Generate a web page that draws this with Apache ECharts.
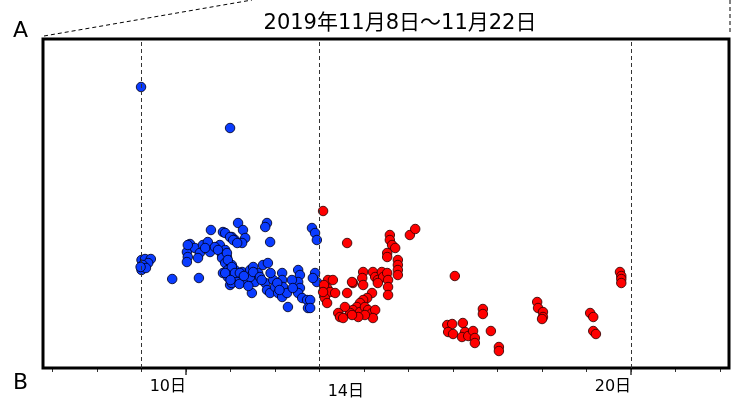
<!DOCTYPE html>
<html>
<head>
<meta charset="utf-8">
<script src="https://cdn.jsdelivr.net/npm/echarts@6/dist/echarts.min.js"></script>
<style>html,body{margin:0;padding:0;background:#fff}#c{width:736px;height:401px}</style>
</head>
<body>
<div id="c"></div>
<script>
// Day of month (Nov 2019) and unitless vertical value
var blueX = [8.99,10.99,9.00,9.08,9.21,9.15,9.03,9.00,9.10,8.98,9.69,10.29,10.56,10.09,10.02,10.04,10.02,10.20,10.31,10.27,10.38,10.49,10.54,10.70,10.76,10.83,10.88,10.92,10.81,10.94,10.83,10.94,11.17,11.28,11.03,11.10,11.33,11.26,10.04,10.43,10.65,10.72,10.81,10.88,11.03,10.94,11.10,10.99,11.26,11.44,11.51,11.10,11.26,11.37,11.48,11.55,10.99,11.62,11.82,11.78,11.89,10.88,10.99,11.06,11.15,10.92,10.94,11.03,10.88,11.10,11.21,11.26,11.15,11.03,11.33,11.44,11.48,11.51,11.66,11.73,11.84,11.78,11.82,11.89,11.96,12.00,12.07,12.16,12.16,12.18,12.16,12.27,12.29,12.52,12.56,12.52,12.56,12.52,12.61,12.72,12.74,12.83,12.90,12.94,12.90,12.94,12.85,12.79,12.79,12.38,12.40,11.90,11.00,11.20,11.30,11.40,12.05,12.10,11.70];
var blueY = [281,240,108,109,109,105,103,98,100,101,89,90,138,124,116,111,106,120,115,110,123,126,116,121,123,136,118,111,113,103,95,91,145,138,131,128,130,125,123,120,121,118,110,105,103,98,98,93,96,98,101,88,90,86,91,86,83,95,145,141,126,135,131,128,125,115,108,101,95,95,95,88,86,85,86,91,75,96,91,103,105,85,78,75,88,81,75,95,88,81,71,75,61,98,93,86,80,75,70,68,60,140,135,128,95,86,90,68,60,88,80,95,88,84,92,82,85,78,88];
var redX = [13.08,13.62,15.03,15.15,14.58,14.58,14.63,14.70,14.52,14.52,14.76,14.76,14.76,14.76,13.19,13.30,13.17,13.24,13.35,13.12,13.17,13.62,13.75,13.73,13.98,13.96,13.98,14.20,14.25,14.31,14.40,14.43,14.52,14.54,14.54,14.54,14.31,14.18,14.07,13.98,13.91,13.84,13.75,13.69,13.91,14.02,14.09,14.18,14.25,14.20,14.02,13.87,13.73,13.57,13.42,13.46,13.53,13.10,13.08,16.04,16.67,16.67,15.87,15.98,15.89,16.00,16.22,16.27,16.20,16.34,16.45,16.49,16.49,16.85,17.03,17.03,17.89,17.91,18.02,18.02,18.00,19.08,19.15,19.15,19.21,19.75,19.78,19.78,19.78];
var redY = [157,125,133,139,133,128,123,120,115,111,108,103,98,93,88,88,80,76,75,70,65,75,85,86,96,90,83,96,91,88,96,91,95,88,81,73,85,75,70,68,65,61,58,55,56,61,58,55,58,50,53,51,53,61,55,51,50,83,76,92,59,54,43,44,36,34,45,36,31,32,37,30,25,37,21,17,66,60,56,51,49,55,51,37,34,96,92,89,85];
var dayTicks = [7,8,9,10,11,12,13,14,15,16,17,18,19,20,21,22];
var majorTicks = [10,20];
var dayLabels = [10,14,20];
var refLines = [9,13,20];
var titleText = '2019年11月8日～11月22日';

function zip(xs, ys){ var o=[]; for(var i=0;i<xs.length;i++) o.push([xs[i], ys[i]]); return o; }

var font = "'DejaVu Sans','Noto Sans CJK JP',sans-serif";
var chart = echarts.init(document.getElementById('c'), null, {renderer:'canvas'});
chart.setOption({
  animation:false,
  backgroundColor:'#fff',
  title:{text:titleText,left:395,top:8,textAlign:'center',
    textStyle:{fontFamily:font,fontSize:21,fontWeight:'normal',color:'#000'}},
  grid:{left:43,right:7,top:39,bottom:33,show:true,borderColor:'#000',borderWidth:3,backgroundColor:'transparent',z:5},
  xAxis:[{
    type:'value',min:6.787,max:22.2,position:'bottom',
    axisLine:{show:false},splitLine:{show:false},
    axisTick:{show:true,length:4,customValues:dayTicks,lineStyle:{color:'#333',width:1}},
    axisLabel:{show:false}
  },{
    type:'value',min:6.787,max:22.2,position:'bottom',
    axisLine:{show:false},splitLine:{show:false},
    axisTick:{show:true,length:7,customValues:majorTicks,lineStyle:{color:'#333',width:1.5}},
    axisLabel:{show:true,customValues:dayLabels,margin:11,align:'right',
      fontFamily:font,fontSize:16,color:'#000',
      formatter:function(v){ return v===14 ? '{low|'+v+'日}' : v+'日'; },
      rich:{low:{fontFamily:font,fontSize:16,color:'#000',padding:[5,0,0,0]}}}
  }],
  yAxis:{type:'value',min:0,max:329,show:false,splitLine:{show:false}},
  series:[{
    type:'scatter',name:'ref',data:[],xAxisIndex:0,
    markLine:{silent:true,symbol:'none',label:{show:false},
      lineStyle:{type:[4,3],color:'#333',width:1},
      data:refLines.map(function(v){return {xAxis:v};})}
  },{
    type:'scatter',name:'blue',data:zip(blueX,blueY),symbolSize:9.5,
    itemStyle:{color:'#0a3cff',borderColor:'rgba(0,0,30,0.85)',borderWidth:1,opacity:1}
  },{
    type:'scatter',name:'red',data:zip(redX,redY),symbolSize:9.5,
    itemStyle:{color:'#ff0000',borderColor:'rgba(50,0,0,0.85)',borderWidth:1,opacity:1}
  }],
  graphic:[
    {type:'line',shape:{x1:44,y1:36,x2:252,y2:0},style:{stroke:'#000',lineWidth:1,lineDash:[4,3]}},
    {type:'line',shape:{x1:730,y1:0,x2:730,y2:35},style:{stroke:'#000',lineWidth:1,lineDash:[4,3]}},
    {type:'text',left:13,top:20,style:{text:'A',font:"22px 'DejaVu Sans',sans-serif",fill:'#000'}},
    {type:'text',left:13,top:372,style:{text:'B',font:"22px 'DejaVu Sans',sans-serif",fill:'#000'}}
  ]
});
</script>
</body>
</html>
